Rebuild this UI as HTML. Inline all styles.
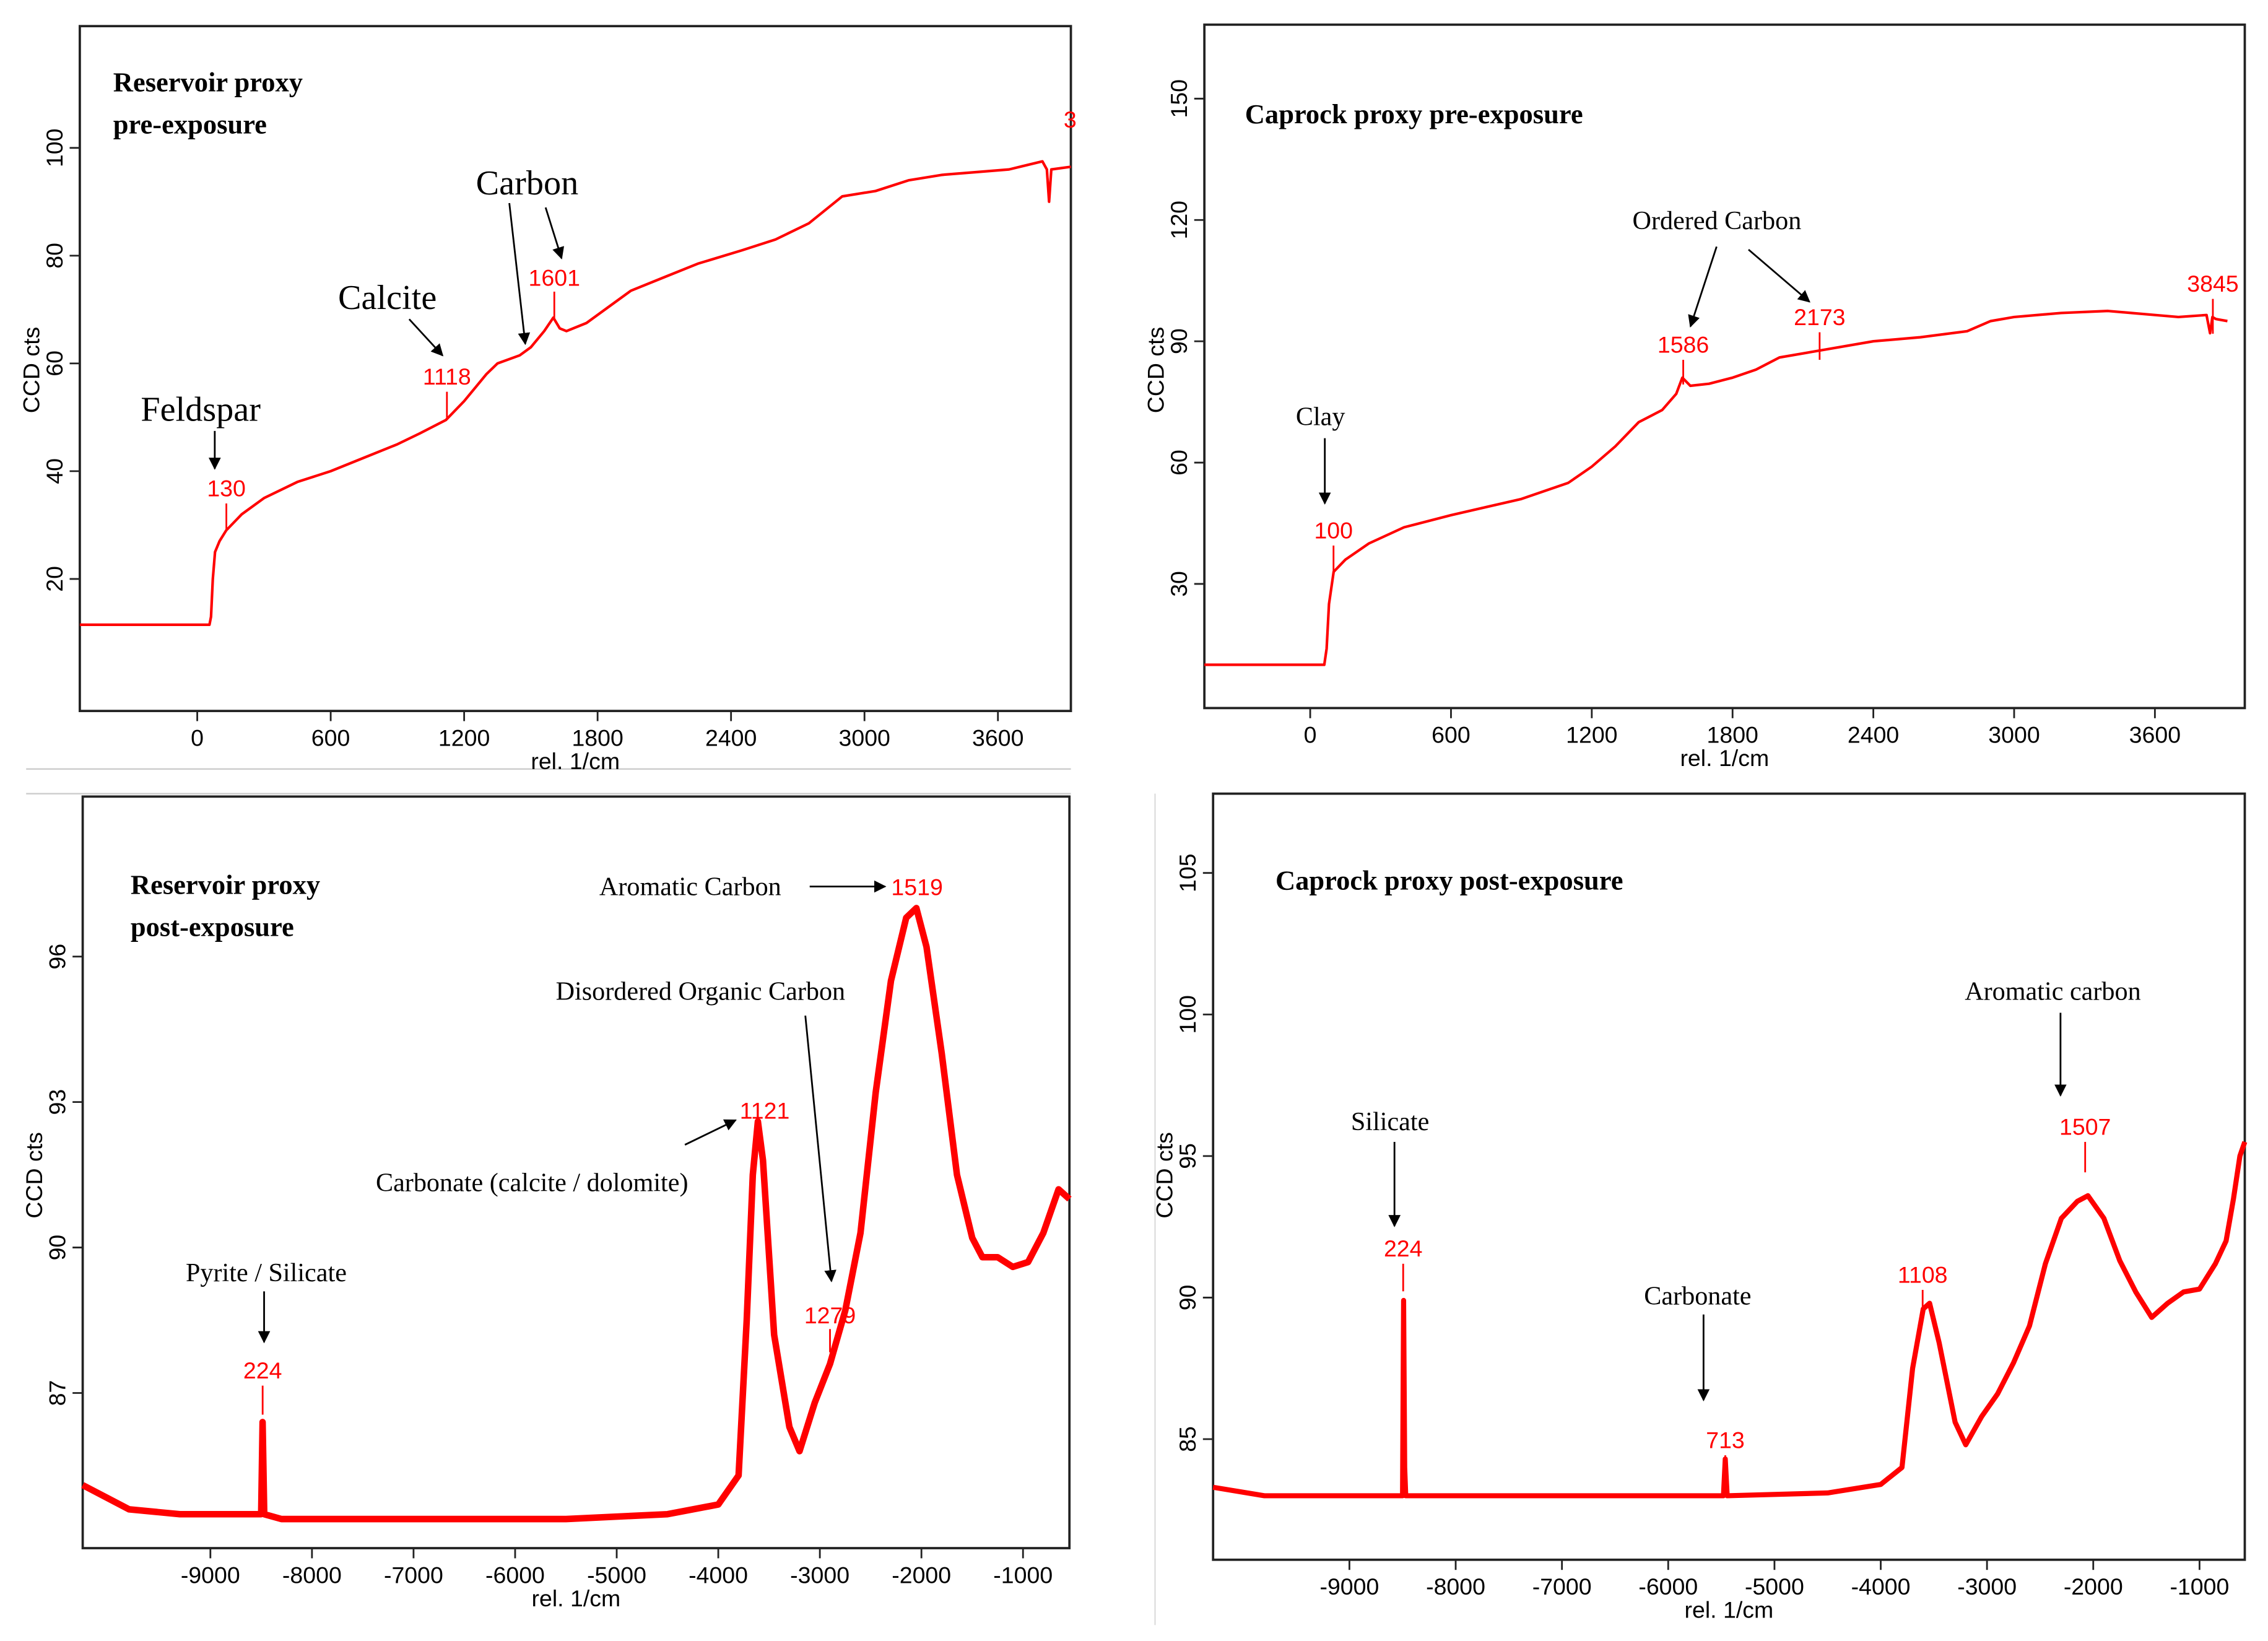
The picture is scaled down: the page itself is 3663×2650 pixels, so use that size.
<!DOCTYPE html>
<html><head><meta charset="utf-8"><style>
html,body{margin:0;padding:0;background:#fff}
svg{display:block}
.tk{font-family:"Liberation Sans",sans-serif;font-size:16px;fill:#000}
.ti{font-family:"Liberation Serif",serif;font-weight:bold;font-size:19px;fill:#000}
.an{font-family:"Liberation Serif",serif;font-size:18px;fill:#000}
.big{font-family:"Liberation Serif",serif;font-size:24px;fill:#000}
.rd{font-family:"Liberation Sans",sans-serif;font-size:16px;fill:#f00}
</style></head><body>
<svg id="fig" width="3663" height="2650" viewBox="0 0 1563 1131" preserveAspectRatio="none" xmlns="http://www.w3.org/2000/svg">
<defs><marker id="ah" viewBox="0 0 10 10" refX="9" refY="5" markerWidth="7" markerHeight="7" orient="auto"><path d="M0,0 L10,5 L0,10 z" fill="#000"/></marker></defs>
<line x1="18" y1="530" x2="738" y2="530" stroke="#ccc" stroke-width="1"/>
<line x1="18" y1="547" x2="738" y2="547" stroke="#ccc" stroke-width="1"/>
<line x1="796" y1="547" x2="796" y2="1120" stroke="#ddd" stroke-width="1"/>
<g id="layer"></g>
</svg>
<script>
// Panel 1: Reservoir pre-exposure
const p1X=[-528,55,62,70,80,100,130,200,300,450,600,750,900,1000,1118,1200,1300,1350,1450,1500,1560,1601,1630,1660,1750,1850,1950,2100,2250,2450,2600,2750,2900,3050,3200,3350,3500,3650,3800,3820,3830,3840,3928];
const p1Y=[11.5,11.5,13,20,25,27,29,32,35,38,40,42.5,45,47,49.5,53,58,60,61.5,63,66,68.5,66.5,66,67.5,70.5,73.5,76,78.5,81,83,86,91,92,94,95,95.5,96,97.5,96,90,96,96.5];
const p1XT=[0,600,1200,1800,2400,3000,3600];
const p1YT=[20,40,60,80,100];
// Panel 2: Caprock pre-exposure
const p2X=[-451,60,70,80,100,150,250,400,600,900,1100,1200,1300,1400,1500,1560,1586,1620,1700,1800,1900,2000,2200,2400,2600,2800,2900,3000,3200,3400,3600,3700,3820,3835,3845,3860,3909];
const p2Y=[10,10,14,25,33,36,40,44,47,51,55,59,64,70,73,77,81,79,79.5,81,83,86,88,90,91,92.5,95,96,97,97.5,96.5,96,96.5,92,96,95.5,95];
const p2XT=[0,600,1200,1800,2400,3000,3600];
const p2YT=[30,60,90,120,150];
// Panel 3: Reservoir post-exposure
const p3X=[-10257,-9800,-9300,-8600,-8500,-8486,-8470,-8300,-7000,-5500,-4500,-4000,-3800,-3720,-3660,-3610,-3560,-3450,-3300,-3200,-3050,-2900,-2750,-2600,-2450,-2300,-2150,-2050,-1950,-1800,-1650,-1500,-1400,-1250,-1100,-950,-800,-650,-543];
const p3Y=[85.1,84.6,84.5,84.5,84.5,86.4,84.5,84.4,84.4,84.4,84.5,84.7,85.3,88.5,91.5,92.6,91.8,88.2,86.3,85.8,86.8,87.6,88.7,90.3,93.2,95.5,96.8,97.0,96.2,94.0,91.5,90.2,89.8,89.8,89.6,89.7,90.3,91.2,91.0];
const p3XT=[-9000,-8000,-7000,-6000,-5000,-4000,-3000,-2000,-1000];
const p3YT=[87,90,93,96];
// Panel 4: Caprock post-exposure
const p4X=[-10283,-9800,-9000,-8500,-8490,-8480,-8470,-8000,-6500,-5480,-5463,-5445,-4500,-4000,-3800,-3700,-3600,-3540,-3450,-3300,-3200,-3050,-2900,-2750,-2600,-2450,-2300,-2150,-2050,-1900,-1750,-1600,-1450,-1300,-1150,-1000,-850,-750,-680,-620,-574];
const p4Y=[83.3,83.0,83.0,83.0,89.9,84,83.0,83.0,83.0,83.0,84.3,83.0,83.1,83.4,84.0,87.5,89.6,89.8,88.4,85.6,84.8,85.8,86.6,87.7,89.0,91.2,92.8,93.4,93.6,92.8,91.3,90.2,89.3,89.8,90.2,90.3,91.2,92.0,93.5,95.0,95.5];
const p4XT=[-9000,-8000,-7000,-6000,-5000,-4000,-3000,-2000,-1000];
const p4YT=[85,90,95,100,105];

const NS="http://www.w3.org/2000/svg";
const layer=document.getElementById('layer');
function mk(tag,attrs,parent){const e=document.createElementNS(NS,tag);for(const k in attrs)e.setAttribute(k,attrs[k]);(parent||layer).appendChild(e);return e;}

function panel(cfg){
  const g=mk('g',{});
  
  
  const sx=v=>cfg.x0+(v-cfg.xmin)/(cfg.xmax-cfg.xmin)*(cfg.x1-cfg.x0);
  const sy=v=>cfg.y1-(v-cfg.ymin)/(cfg.ymax-cfg.ymin)*(cfg.y1-cfg.y0);
  const box=mk('rect',{x:cfg.x0,y:cfg.y0,width:cfg.x1-cfg.x0,height:cfg.y1-cfg.y0,fill:'none',stroke:'#222','stroke-width':1.6},g);
  
  
  cfg.xt.forEach(t=>{
    const x=sx(t);
    const l=mk('line',{x1:x,y1:cfg.y1,x2:x,y2:cfg.y1+7,stroke:'#222','stroke-width':1.2},g);
    
    
    const tx=mk('text',{x:x,y:cfg.y1+24,'text-anchor':'middle',class:'tk'},g);
    tx.textContent=t;
    
    
  });
  cfg.yt.forEach(t=>{
    const y=sy(t);
    const l=mk('line',{x1:cfg.x0-7,y1:y,x2:cfg.x0,y2:y,stroke:'#222','stroke-width':1.2},g);
    
    
    const tx=mk('text',{x:cfg.x0-12,y:y,'text-anchor':'middle',class:'tk',transform:`rotate(-90 ${cfg.x0-12} ${y})`},g);
    tx.textContent=t;
    
    
  });
  const xl=mk('text',{x:(cfg.x0+cfg.x1)/2+(cfg.xlOff||0),y:cfg.y1+40,'text-anchor':'middle',class:'tk'},g);
  xl.textContent='rel. 1/cm';
  
  
  const yx=cfg.x0-28, yy=cfg.ylY;
  const yl=mk('text',{x:yx,y:yy,'text-anchor':'middle',class:'tk',transform:`rotate(-90 ${yx} ${yy})`},g);
  yl.textContent='CCD cts';
  
  
  let d='';
  cfg.X.forEach((v,i)=>{d+=(i?'L':'M')+sx(v).toFixed(2)+','+sy(cfg.Y[i]).toFixed(2);});
  const p=mk('path',{d:d,fill:'none',stroke:'#f00','stroke-width':cfg.sw,'stroke-linejoin':'round'},g);
  
  
  return g;
}
panel({name:'reservoir-pre-panel',x0:55,x1:738,y0:18,y1:490,xmin:-528,xmax:3928,ymin:-4.5,ymax:122.6,xt:p1XT,yt:p1YT,X:p1X,Y:p1Y,sw:1.8,ylY:255});
panel({name:'caprock-pre-panel',x0:830,x1:1547,y0:17,y1:488,xmin:-451,xmax:3983,ymin:-0.7,ymax:168.3,xt:p2XT,yt:p2YT,X:p2X,Y:p2Y,sw:1.8,ylY:255,xlOff:0});
panel({name:'reservoir-post-panel',x0:57,x1:737,y0:549,y1:1067,xmin:-10257,xmax:-543,ymin:83.8,ymax:99.3,xt:p3XT,yt:p3YT,X:p3X,Y:p3Y,sw:4.5,ylY:810});
panel({name:'caprock-post-panel',x0:836,x1:1547,y0:547,y1:1075,xmin:-10283,xmax:-574,ymin:80.74,ymax:107.8,xt:p4XT,yt:p4YT,X:p4X,Y:p4Y,sw:3.5,ylY:810});

function txt(x,y,cls,s,name,anchor){const t=mk('text',{x:x,y:y,class:cls,'text-anchor':anchor||'start'});t.textContent=s;
  
  }
function arr(x1,y1,x2,y2){const l=mk('line',{x1,y1,x2,y2,stroke:'#000','stroke-width':1.2,'marker-end':'url(#ah)'});
  
  }
function rl(x,y1,y2){const l=mk('line',{x1:x,y1,x2:x,y2,stroke:'#f00','stroke-width':1.2});
  
  }
// Panel 1 annotations
txt(78,63,'ti','Reservoir proxy','panel-title');txt(78,92,'ti','pre-exposure','panel-title');
txt(328,134,'big','Carbon','annotation-carbon');arr(351,140,362,237);arr(376,143,387,178);
txt(233,213,'big','Calcite','annotation-calcite');arr(282,220,305,245);
txt(97,290,'big','Feldspar','annotation-feldspar');arr(148,297,148,323);
txt(156,342,'rd','130','peak-label','middle');rl(156,347,365);
txt(308,265,'rd','1118','peak-label','middle');rl(308,270,288);
txt(382,197,'rd','1601','peak-label','middle');rl(382,201,220);
txt(733,88,'rd','3','peak-label','start');
// Panel 2
txt(858,85,'ti','Caprock proxy pre-exposure','panel-title');
txt(1125,158,'an','Ordered Carbon','annotation-ordered-carbon');arr(1183,170,1165,225);arr(1205,172,1247,208);
txt(1160,243,'rd','1586','peak-label','middle');rl(1160,248,265);
txt(1254,224,'rd','2173','peak-label','middle');rl(1254,229,248);
txt(1525,201,'rd','3845','peak-label','middle');rl(1525,206,230);
txt(910,293,'an','Clay','annotation-clay','middle');arr(913,302,913,347);
txt(919,371,'rd','100','peak-label','middle');rl(919,376,395);
// Panel 3
txt(90,616,'ti','Reservoir proxy','panel-title');txt(90,645,'ti','post-exposure','panel-title');
txt(413,617,'an','Aromatic Carbon','annotation-aromatic');arr(558,611,610,611);
txt(632,617,'rd','1519','peak-label','middle');
txt(383,689,'an','Disordered Organic Carbon','annotation-disordered');arr(555,700,573,883);
txt(527,771,'rd','1121','peak-label','middle');arr(472,789,507,772);
txt(259,821,'an','Carbonate (calcite / dolomite)','annotation-carbonate');
txt(572,912,'rd','1279','peak-label','middle');rl(572,916,932);
txt(128,883,'an','Pyrite / Silicate','annotation-pyrite');arr(182,890,182,925);
txt(181,950,'rd','224','peak-label','middle');rl(181,955,975);
// Panel 4
txt(879,613,'ti','Caprock proxy post-exposure','panel-title');
txt(1354,689,'an','Aromatic carbon','annotation-aromatic');arr(1420,698,1420,755);
txt(1437,782,'rd','1507','peak-label','middle');rl(1437,787,808);
txt(931,779,'an','Silicate','annotation-silicate');arr(961,787,961,845);
txt(967,866,'rd','224','peak-label','middle');rl(967,871,890);
txt(1133,899,'an','Carbonate','annotation-carbonate');arr(1174,906,1174,965);
txt(1189,998,'rd','713','peak-label','middle');rl(1189,1003,1025);
txt(1325,884,'rd','1108','peak-label','middle');rl(1325,889,905);
</script>
</body></html>
